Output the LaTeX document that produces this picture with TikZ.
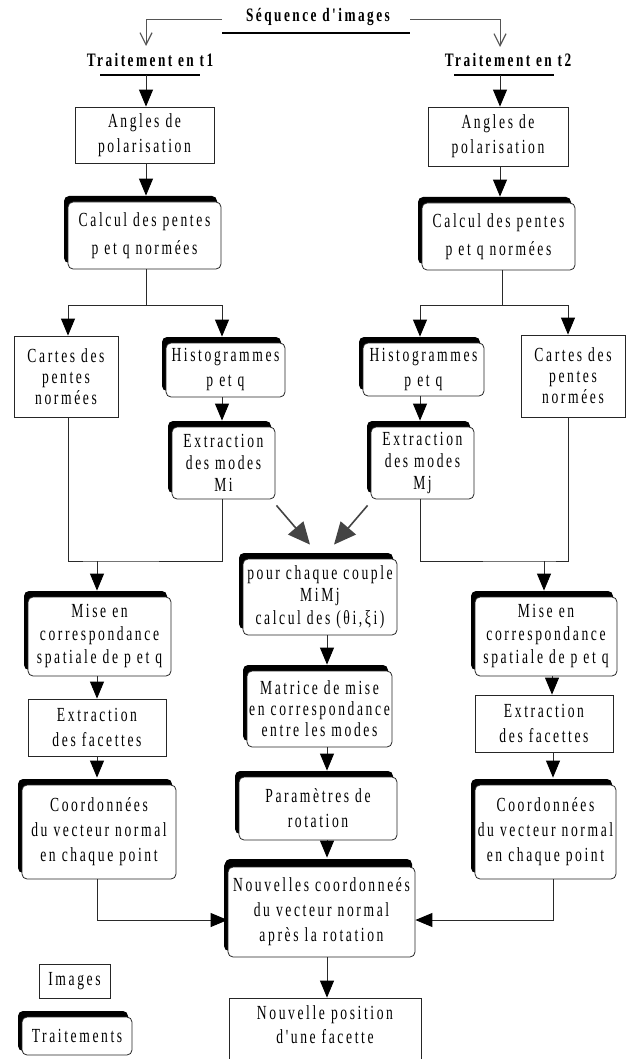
\documentclass[tikz,border=0pt]{standalone}
\usepackage{fontspec}
\newfontfamily\dfont{Liberation Serif}[FakeStretch=0.68,LetterSpace=13]
\newfontfamily\tfont{Liberation Serif}[FakeStretch=0.70,LetterSpace=13]
\usetikzlibrary{arrows.meta,shadows,calc}
\definecolor{lncol}{HTML}{2A2A2A}
\definecolor{gacol}{HTML}{444444}
\definecolor{topcol}{HTML}{555555}
\begin{document}
\begin{tikzpicture}[x=1pt,y=-1pt,
  every node/.style={inner sep=1pt, align=center, text=black},
  txt/.style={font=\dfont\fontsize{20}{#1}\selectfont},
  txt/.default=24,
  ttl/.style={font=\tfont\fontsize{19}{22}\selectfont\bfseries},
  imgbox/.style={draw=black!85, line width=0.8pt, fill=white},
  trtbox/.style={draw=black!85, line width=0.8pt, fill=white, rounded corners=5pt,
     general shadow={fill=black, shadow xshift=-4pt, shadow yshift=6pt}},
  ln/.style={draw=lncol, line width=0.9pt},
  arr/.style={ln, -{Triangle[width=14pt,length=17pt,color=black]}},
  garr/.style={draw=gacol, line width=1.6pt, -{Triangle[width=20pt,length=22pt]}},
  barb/.style={draw=topcol, line width=1pt, -{Straight Barb[width=12pt,length=12pt,line width=1.2pt]}},
  uline/.style={draw=black, line width=1.5pt}
]
\useasboundingbox (0,0) rectangle (632,1059);

% titles
\node[ttl] (seq) at (318,17) {Séquence d'images};
\node[ttl] (t1) at (150,60) {Traitement en t1};
\node[ttl] (t2) at (508,60) {Traitement en t2};
\coordinate (seqa) at (222,33);
\coordinate (seqb) at (410,33);
\coordinate (t1a) at (100,75);
\coordinate (t1b) at (200,75);
\coordinate (t2a) at (454,75);
\coordinate (t2b) at (554,75);
\draw[uline] (seqa) -- (seqb);
\draw[uline] (t1a) -- (t1b);
\draw[uline] (t2a) -- (t2b);
\coordinate (sa) at (222,20);
\coordinate (sb) at (410,20);
\coordinate (tipL) at (146,46);
\coordinate (tipR) at (500,47);
\draw[barb] (sa) -| (tipL);
\draw[barb] (sb) -| (tipR);

% left column
\node[imgbox, txt=25, minimum width=139pt, minimum height=56pt] (angL) at (144.5,135) {Angles de\\polarisation};
\node[trtbox, txt=28, minimum width=153pt, minimum height=67pt] (calL) at (144.5,235.5) {Calcul des pentes\\p et q normées};
\node[imgbox, txt=21, minimum width=104pt, minimum height=81pt] (cartL) at (66,376.5) {Cartes des\\pentes\\normées};
\node[trtbox, txt=25, minimum width=119pt, minimum height=54pt] (histL) at (225.5,370) {Histogrammes\\p et q};
\node[trtbox, txt=22, minimum width=103pt, minimum height=72pt] (extL) at (223.5,463) {Extraction\\des modes\\Mi};
\node[trtbox, txt=23, minimum width=143pt, minimum height=79pt] (miseL) at (99.5,636.5) {Mise en\\correspondance\\spatiale de p et q};
\node[imgbox, txt=25, minimum width=138pt, minimum height=57pt] (facL) at (97,727.5) {Extraction\\des facettes};
\node[trtbox, txt=25, minimum width=154pt, minimum height=94pt] (coordL) at (99,832) {Coordonnées\\du vecteur normal\\en chaque point};

% middle column
\node[trtbox, txt=22.5, minimum width=154pt, minimum height=76pt] (pour) at (320,597) {pour chaque couple\\MiMj\\calcul des (θi,ξi)};
\node[trtbox, txt=21, minimum width=145pt, minimum height=76pt] (mat) at (319.5,709) {Matrice de mise\\en correspondance\\entre les modes};
\node[trtbox, txt=25, minimum width=158pt, minimum height=63pt] (par) at (318,808.5) {Paramètres de\\rotation};
\node[trtbox, txt=25, minimum width=187pt, minimum height=90pt, general shadow={fill=black, shadow xshift=-3pt, shadow yshift=8pt}] (nouv) at (321.5,912) {Nouvelles coordonneés\\du vecteur normal\\après la rotation};
\node[imgbox, txt=24, minimum width=192pt, minimum height=78pt] (npos) at (325,1037) {Nouvelle position\\d'une facette\\~};

% right column
\node[imgbox, txt=25, minimum width=140pt, minimum height=59pt] (angR) at (498,136.5) {Angles de\\polarisation};
\node[trtbox, txt=28, minimum width=153pt, minimum height=67pt] (calR) at (498.5,236.5) {Calcul des pentes\\p et q normées};
\node[trtbox, txt=25, minimum width=121pt, minimum height=53pt] (histR) at (423.5,369.5) {Histogrammes\\p et q};
\node[trtbox, txt=22, minimum width=103pt, minimum height=72pt] (extR) at (422.5,463) {Extraction\\des modes\\Mj};
\node[imgbox, txt=21, minimum width=104pt, minimum height=82pt] (cartR) at (573,376) {Cartes des\\pentes\\normées};
\node[trtbox, txt=23, minimum width=142pt, minimum height=79pt] (miseR) at (546,636.5) {Mise en\\correspondance\\spatiale de p et q};
\node[imgbox, txt=25, minimum width=138pt, minimum height=57pt] (facR) at (544,723.5) {Extraction\\des facettes};
\node[trtbox, txt=25, minimum width=141pt, minimum height=94pt] (coordR) at (545.5,832) {Coordonnées\\du vecteur normal\\en chaque point};

% legend
\node[imgbox, txt, minimum width=71pt, minimum height=34pt] (img) at (74.5,981) {Images};
\node[trtbox, txt, minimum width=110pt, minimum height=38pt, general shadow={fill=black, shadow xshift=-4pt, shadow yshift=4pt}] (trt) at (77,1036) {Traitements};

% helper columns
\coordinate (xL1) at (146,0);
\coordinate (xR1) at (500,0);
\coordinate (xM) at (327,0);
\coordinate (xHL) at (222,0);
\coordinate (xHR) at (420,0);
\coordinate (xCL) at (68,0);
\coordinate (xCR) at (568,0);
\coordinate (xML) at (97,0);
\coordinate (xMR) at (552,0);
\coordinate (xDL) at (97,0);
\coordinate (xDR) at (553,0);

% left connectors
\draw[arr] (t1a -| xL1) -- (angL.north -| xL1);
\draw[arr, shorten >=6pt] (angL.south -| xL1) -- (calL.north -| xL1);
\coordinate (sL) at (146,305);
\draw[ln] (calL.south -| sL) -- (sL);
\draw[arr] (sL) -| (cartL.north -| xCL);
\draw[arr, shorten >=6pt] (sL) -| (histL.north -| xHL);
\draw[arr, shorten >=6pt] (histL.south -| xHL) -- (extL.north -| xHL);
\coordinate (jL) at (97,561);
\draw[ln] (cartL.south -| xCL) |- (jL) -| (extL.south -| xHL);
\draw[arr, shorten >=6pt] (jL) -- (miseL.north -| jL);
\draw[arr] (miseL.south -| xML) -- (facL.north -| xML);
\draw[arr, shorten >=7pt] (facL.south -| xDL) -- (coordL.north -| xDL);
\coordinate (kL) at (97,920);
\draw[arr] (coordL.south -| kL) -- (kL) -- (kL -| nouv.west);

% right connectors
\draw[arr] (t2a -| xR1) -- (angR.north -| xR1);
\draw[arr, shorten >=6pt] (angR.south -| xR1) -- (calR.north -| xR1);
\coordinate (sR) at (502,305);
\draw[ln] (calR.south -| sR) -- (sR);
\draw[arr, shorten >=6pt] (sR) -| (histR.north -| xHR);
\draw[arr] (sR) -| (cartR.north -| xCR);
\draw[arr, shorten >=6pt] (histR.south -| xHR) -- (extR.north -| xHR);
\coordinate (jR) at (544,561);
\draw[ln] (cartR.south -| xCR) |- (jR) -| (extR.south -| xHR);
\draw[arr, shorten >=6pt] (jR) -- (miseR.north -| jR);
\draw[arr] (miseR.south -| xMR) -- (facR.north -| xMR);
\draw[arr, shorten >=7pt] (facR.south -| xDR) -- (coordR.north -| xDR);
\coordinate (kR) at (553,920);
\draw[arr] (coordR.south -| kR) -- (kR) -- (kR -| nouv.east);

% middle connectors
\draw[garr] ($(extL.south east)+(1,6)$) -- ($(pour.north)+(-10,-14)$);
\draw[garr] ($(extR.south west)+(-3,6)$) -- ($(pour.north)+(14,-14)$);
\draw[arr, shorten >=6pt] (pour.south -| xM) -- (mat.north -| xM);
\draw[arr, shorten >=6pt] (mat.south -| xM) -- (par.north -| xM);
\draw[arr, shorten >=9pt] (par.south -| xM) -- (nouv.north -| xM);
\draw[arr] (nouv.south -| xM) -- (npos.north -| xM);
\end{tikzpicture}
\end{document}
